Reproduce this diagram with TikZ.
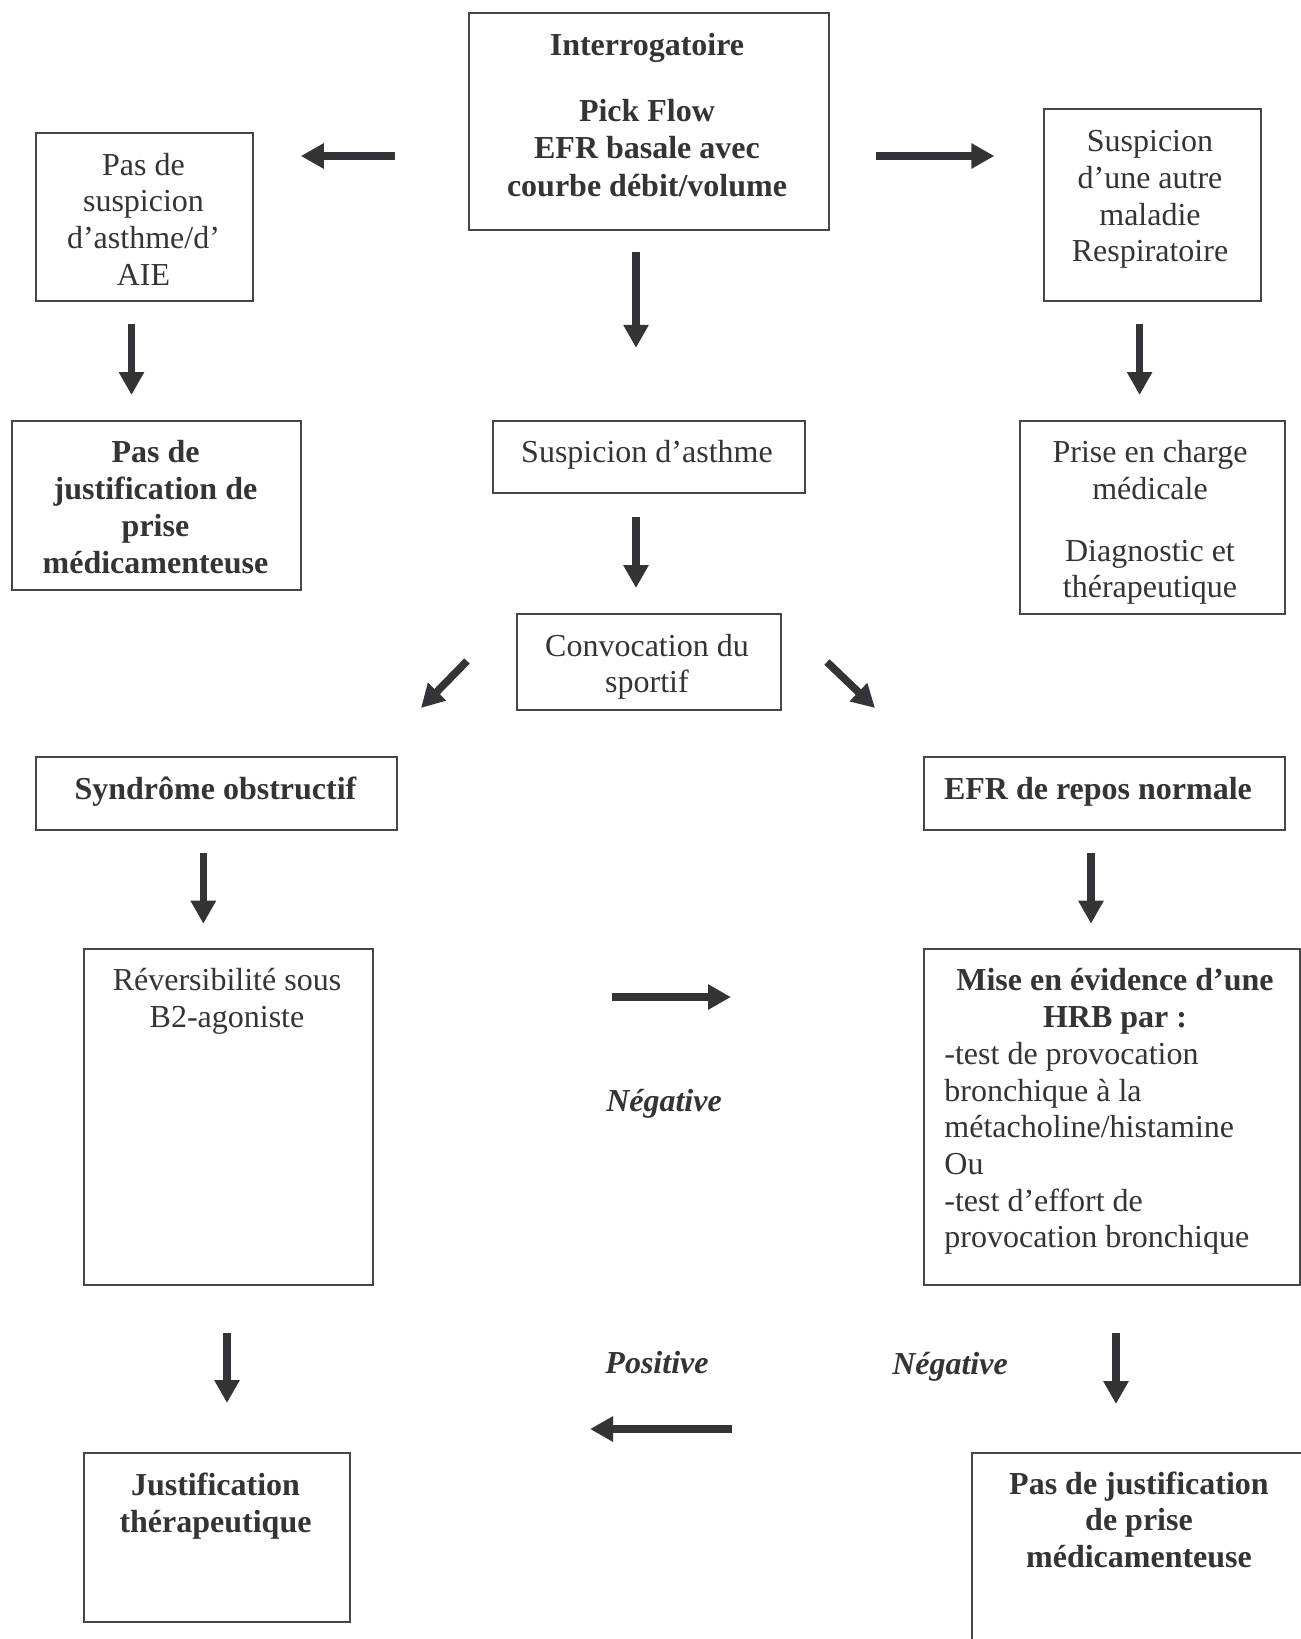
\documentclass[tikz,border=0pt]{standalone}
\usepackage{fontspec}
\setmainfont{Liberation Serif}
\usetikzlibrary{arrows.meta}
\definecolor{ink}{RGB}{51,51,56}
\definecolor{edgec}{RGB}{70,70,72}
\newcommand\fl{\rule{0pt}{14pt}}
\begin{document}
\begin{tikzpicture}[x=0.5pt,y=-0.5pt,
  box/.style={draw=edgec, line width=1pt, inner sep=0pt, rectangle, anchor=north west},
  txt/.style={inner sep=0pt, anchor=north, align=center, text=ink, font=\fontsize{16}{18.35}\selectfont},
  btxt/.style={txt, font=\fontsize{16}{18.35}\selectfont\bfseries},
  lbl/.style={txt, font=\fontsize{16}{18.35}\selectfont\bfseries\itshape},
  arr/.style={draw=ink, line width=3.8pt, -{Triangle[length=11.5pt,width=12pt]}}]
\useasboundingbox[fill=white] (0,0) rectangle (1301,1639);

% boxes
\node[box, minimum width=180.4pt, minimum height=108.3pt] (A) at (467.6,11.9) {};
\node[box, minimum width=108.5pt, minimum height=84.4pt] (B) at (34.9,131.6) {};
\node[box, minimum width=108.5pt, minimum height=96pt] (C) at (1043,108) {};
\node[box, minimum width=144.4pt, minimum height=84.5pt] (D) at (10.8,420) {};
\node[box, minimum width=155.9pt, minimum height=36pt] (E) at (491.7,420) {};
\node[box, minimum width=132.5pt, minimum height=96.3pt] (F) at (1019,420) {};
\node[box, minimum width=132pt, minimum height=48pt] (G) at (516,612.5) {};
\node[box, minimum width=180.5pt, minimum height=36.3pt] (H) at (35,756) {};
\node[box, minimum width=180.3pt, minimum height=36.3pt] (I) at (923,756) {};
\node[box, minimum width=144.5pt, minimum height=168pt] (J) at (83,948) {};
\node[box, minimum width=188pt, minimum height=168pt] (K) at (923,948) {};
\node[box, minimum width=132.75pt, minimum height=84.2pt] (L) at (83,1452.3) {};
\node[box, minimum width=172.5pt, minimum height=110pt] (M) at (971,1452.3) {};

% texts
\node[btxt] (tA) at (647,27.4) {\fl Interrogatoire\\[14.4pt]Pick Flow\\[0.4pt]EFR basale avec\\[0.4pt]courbe débit/volume};
\node[txt] (tB) at (143.5,146.7) {\fl Pas de\\suspicion\\d’asthme/d’\\AIE};
\node[txt] (tC) at (1150,123.4) {\fl Suspicion\\d’une autre\\maladie\\Respiratoire};
\node[btxt] (tD) at (155.5,434.5) {\fl Pas de\\justification de\\prise\\médicamenteuse};
\node[txt] (tE) at (647,434.5) {\fl Suspicion d’asthme};
\node[txt] (tF) at (1150,434.5) {\fl Prise en charge\\médicale\\[12.4pt]Diagnostic et\\thérapeutique};
\node[txt] (tG) at (647,627.6) {\fl Convocation du\\sportif};
\node[btxt] (tH) at (215.5,771) {\fl Syndrôme obstructif};
\node[btxt] (tI) at (1098,771) {\fl EFR de repos normale};
\node[txt] (tJ) at (227,962) {\fl Réversibilité sous\\B2-agoniste};
\node[btxt] (tK1) at (1115,962) {\fl Mise en évidence d’une\\HRB par :};
\node[txt, anchor=north west, align=left] (tK2) at (944,1036) {\fl -test de provocation\\bronchique à la\\métacholine/histamine\\Ou\\-test d’effort de\\provocation bronchique};
\node[btxt] (tL) at (215.5,1467) {\fl Justification\\thérapeutique};
\node[btxt] (tM) at (1139,1465.7) {\fl Pas de justification\\de prise\\médicamenteuse};

% labels
\node[lbl] (neg1) at (664,1083) {\fl Négative};
\node[lbl] (pos) at (657,1344.7) {\fl Positive};
\node[lbl] (neg2) at (950,1345.7) {\fl Négative};

% arrow end points
\coordinate (AB1) at (395.4,156);   \coordinate (AB2) at (300.8,156);
\coordinate (AC1) at (876,156);     \coordinate (AC2) at (994.4,156);
\coordinate (AE1) at (636,251.8);   \coordinate (AE2) at (636,347.8);
\coordinate (BD1) at (131.5,324);   \coordinate (BD2) at (131.5,395);
\coordinate (CF1) at (1139.6,324);  \coordinate (CF2) at (1139.6,395);
\coordinate (EG1) at (636,516.6);   \coordinate (EG2) at (636,588);
\coordinate (GH1) at (467,661);     \coordinate (GH2) at (421,708);
\coordinate (GI1) at (827,662);     \coordinate (GI2) at (875,708);
\coordinate (HJ1) at (203.3,853);   \coordinate (HJ2) at (203.3,923.7);
\coordinate (IK1) at (1091,853);    \coordinate (IK2) at (1091,923.7);
\coordinate (JK1) at (612,997);     \coordinate (JK2) at (731,997);
\coordinate (JL1) at (227,1333);    \coordinate (JL2) at (227,1403);
\coordinate (KM1) at (1116,1333);   \coordinate (KM2) at (1116,1404);
\coordinate (PL1) at (732,1429);    \coordinate (PL2) at (590,1429);

\draw[arr] (AB1) -- (AB2);
\draw[arr] (AC1) -- (AC2);
\draw[arr] (AE1) -- (AE2);
\draw[arr] (BD1) -- (BD2);
\draw[arr] (CF1) -- (CF2);
\draw[arr] (EG1) -- (EG2);
\draw[arr] (GH1) -- (GH2);
\draw[arr] (GI1) -- (GI2);
\draw[arr] (HJ1) -- (HJ2);
\draw[arr] (IK1) -- (IK2);
\draw[arr] (JK1) -- (JK2);
\draw[arr] (JL1) -- (JL2);
\draw[arr] (KM1) -- (KM2);
\draw[arr] (PL1) -- (PL2);
\end{tikzpicture}
\end{document}
